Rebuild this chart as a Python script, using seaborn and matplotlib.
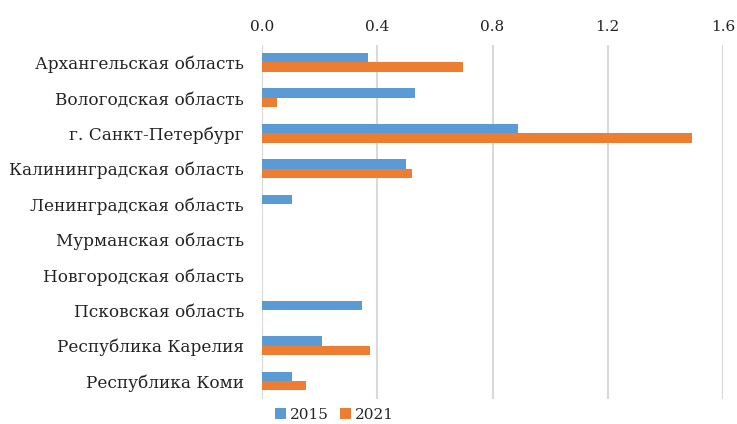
import matplotlib
matplotlib.use("Agg")
import matplotlib.pyplot as plt
import seaborn as sns
import pandas as pd

regions = ["Архангельская область", "Вологодская область", "г. Санкт-Петербург",
           "Калининградская область", "Ленинградская область", "Мурманская область",
           "Новгородская область", "Псковская область", "Республика Карелия", "Республика Коми"]
vals_2015 = [0.369, 0.531, 0.889, 0.499, 0.105, 0.0, 0.0, 0.346, 0.209, 0.105]
vals_2021 = [0.697, 0.052, 1.494, 0.522, 0.0, 0.0, 0.0, 0.0, 0.374, 0.153]
years = ["2015", "2021"]
xticks = [0.0, 0.4, 0.8, 1.2, 1.6]

df = pd.DataFrame({
    "region": regions * 2,
    "value": vals_2015 + vals_2021,
    "year": [years[0]] * len(regions) + [years[1]] * len(regions),
})

sns.set_theme(style="white")
plt.rcParams["font.family"] = ["DejaVu Serif"]

fig = plt.figure(figsize=(7.37, 4.24), dpi=100)
ax = fig.add_axes([0.3555, 0.0594, 0.6255, 0.835])

#bars, 2015 on top of each pair
sns.barplot(data=df, y="region", x="value", hue="year", orient="h",
            palette=["#5B9BD5", "#ED7D31"], saturation=1, width=0.53,
            linewidth=0, ax=ax, legend=True)

ax.set_xlim(0, 1.6)
ax.set_xticks(xticks)
ax.set_xticklabels([f"{t:.1f}" for t in xticks], fontsize=11)
ax.xaxis.tick_top()
ax.tick_params(axis="x", length=0, pad=8, colors="#222222")
ax.tick_params(axis="y", length=0, pad=13, labelsize=12.2, colors="#222222")
ax.grid(axis="x", color="#D9D9D9", linewidth=1.5)
ax.set_axisbelow(True)
for s in ax.spines.values():
    s.set_visible(False)
ax.set_xlabel("")
ax.set_ylabel("")

ax.legend(loc="upper left", bbox_to_anchor=(0.015, -0.008), ncol=2, frameon=False,
          fontsize=11, handlelength=0.7, handleheight=0.7, handletextpad=0.3,
          columnspacing=0.7, borderaxespad=0)

fig.savefig("out.png", dpi=100)
